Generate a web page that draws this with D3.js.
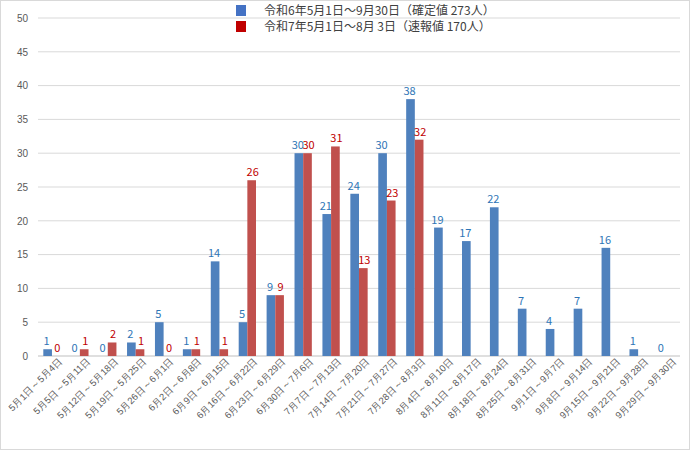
<!DOCTYPE html>
<html><head><meta charset="utf-8">
<script src="https://cdn.jsdelivr.net/npm/d3@7"></script>
<style>body{margin:0;background:#fff}svg{font-family:"Noto Sans CJK JP",sans-serif}</style>
</head><body><svg id="c" width="690" height="450"></svg>
<script>
const categories = ["5月1日～5月4日","5月5日～5月11日","5月12日～5月18日","5月19日～5月25日","5月26日～6月1日","6月2日～6月8日","6月9日～6月15日","6月16日～6月22日","6月23日～6月29日","6月30日～7月6日","7月7日～7月13日","7月14日～7月20日","7月21日～7月27日","7月28日～8月3日","8月4日～8月10日","8月11日～8月17日","8月18日～8月24日","8月25日～8月31日","9月1日～9月7日","9月8日～9月14日","9月15日～9月21日","9月22日～9月28日","9月29日～9月30日"];
const r6 = [1,0,0,2,5,1,14,5,9,30,21,24,30,38,19,17,22,7,4,7,16,1,0];
const r7 = [0,1,2,1,0,1,1,26,9,30,31,13,23,32];
const seriesNames = ["令和6年5月1日～9月30日（確定値 273人）","令和7年5月1日～8月 3日（速報値 170人）"];
const yTicks = [0,5,10,15,20,25,30,35,40,45,50];

const svg = d3.select("#c");
svg.append("rect").attr("x",0.5).attr("y",0.5).attr("width",689).attr("height",449).attr("fill","#fff").attr("stroke","#d9d9d9");
const m = {left:38, right:10, top:18, bottom:94};
const W = 690-m.left-m.right, H = 450-m.top-m.bottom;
const g = svg.append("g").attr("transform",`translate(${m.left},${m.top})`);
const x = d3.scaleBand().domain(categories).range([0,W]).paddingInner(0.38).paddingOuter(0.19);
const y = d3.scaleLinear().domain([0,50]).range([H,0]);
const bw = x.bandwidth()/2;

g.append("g").selectAll("line").data(yTicks).join("line")
  .attr("x1",0).attr("x2",W).attr("y1",d=>y(d)).attr("y2",d=>y(d))
  .attr("stroke",d=>d===0?"#bfbfbf":"#d9d9d9");
const ya = g.append("g").call(d3.axisLeft(y).tickValues(yTicks).tickSize(0).tickPadding(10));
ya.select(".domain").remove();
ya.selectAll("text").attr("fill","#595959").attr("font-size",10);

const xa = g.append("g").attr("transform",`translate(0,${H})`).call(d3.axisBottom(x).tickSize(0).tickPadding(6));
xa.select(".domain").remove();
xa.selectAll("text").attr("fill","#595959").attr("font-size",9.5)
  .attr("text-anchor","end").attr("dx","0.4em").attr("dy","0.6em").attr("transform","rotate(-45)");

const series = [{v:r6,fill:"#4f81bd",lab:"#2e75b6",off:0,dx:-1},{v:r7,fill:"#c0504d",lab:"#c00000",off:bw,dx:1}];
series.forEach(s=>{
  const d = s.v.map((v,i)=>({c:categories[i],v}));
  g.append("g").selectAll("rect").data(d).join("rect")
    .attr("x",e=>x(e.c)+s.off).attr("width",bw).attr("y",e=>y(e.v)).attr("height",e=>H-y(e.v))
    .attr("fill",s.fill);
  g.append("g").selectAll("text").data(d).join("text")
    .attr("x",e=>x(e.c)+s.off+bw/2+s.dx).attr("y",e=>y(e.v)-4).attr("text-anchor","middle")
    .attr("font-size",11).attr("fill",s.lab).text(e=>e.v);
});

const lg = svg.append("g").attr("transform","translate(236,4)");
["#4472c4","#c00000"].forEach((c,i)=>{
  lg.append("rect").attr("x",0).attr("y",i*16+1).attr("width",10).attr("height",11).attr("fill",c);
  lg.append("text").attr("x",28).attr("y",i*16+11).attr("font-size",12).attr("fill","#404040").text(seriesNames[i]);
});
</script></body></html>
